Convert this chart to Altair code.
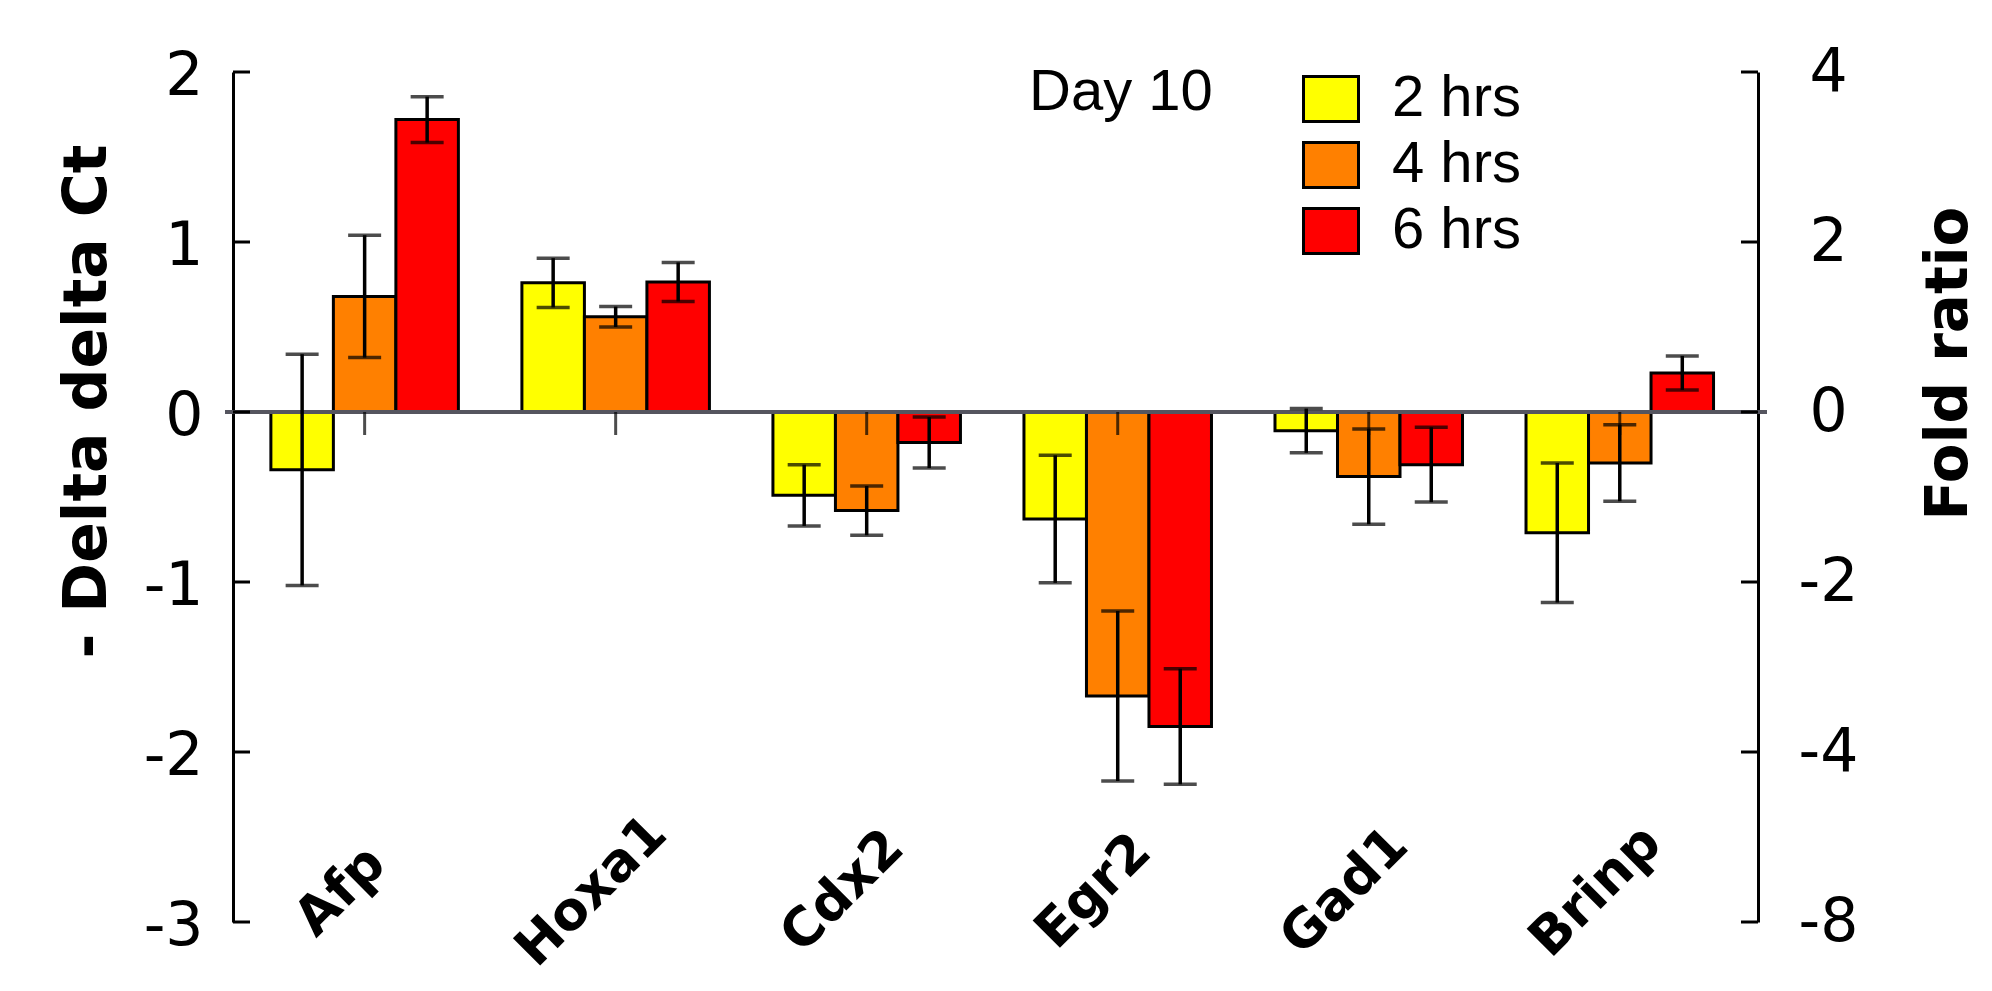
import altair as alt
import pandas as pd

# --- data -------------------------------------------------------------
genes = ["Afp", "Hoxa1", "Cdx2", "Egr2", "Gad1", "Brinp"]
series = ["2 hrs", "4 hrs", "6 hrs"]
colors = ["#ffff00", "#ff8000", "#ff0000"]

mean_2h = [-0.34, 0.76, -0.49, -0.63, -0.11, -0.71]
mean_4h = [0.68, 0.56, -0.58, -1.67, -0.38, -0.30]
mean_6h = [1.72, 0.765, -0.18, -1.85, -0.31, 0.23]
err_2h = [0.68, 0.145, 0.18, 0.375, 0.13, 0.41]
err_4h = [0.36, 0.06, 0.145, 0.50, 0.28, 0.225]
err_6h = [0.135, 0.115, 0.15, 0.34, 0.22, 0.10]

left_ticks = [2, 1, 0, -1, -2, -3]
fold_labels = ["4", "2", "0", "-2", "-4", "-8"]
panel_note = ["Day 10"]

rows = []
for s, means, errs in zip(series, [mean_2h, mean_4h, mean_6h], [err_2h, err_4h, err_6h]):
    for g, m, e in zip(genes, means, errs):
        rows.append({"gene": g, "series": s, "value": m, "lo": m - e, "hi": m + e})
df = pd.DataFrame(rows)
genes_df = pd.DataFrame({"gene": genes})
ticks_df = pd.DataFrame({"tick": left_ticks})
zero_df = pd.DataFrame({"v": [0]})
note_df = pd.DataFrame({"note": panel_note})

# --- layout -----------------------------------------------------------
W, H = 1525, 850
LABEL_Y = -2.82           # centre line of the slanted gene names
TEXT_FONT = "DejaVu Sans"
NUM_FONT = "DejaVu Sans"

y_scale = alt.Scale(domain=[-3, 2], nice=False, zero=False)
x_enc = alt.X("gene:N", sort=genes, axis=None,
              scale=alt.Scale(domain=genes, paddingInner=0.253,
                              paddingOuter=0.164, align=0.46))
xo_enc = alt.XOffset("series:N", sort=series,
                     scale=alt.Scale(domain=series, paddingInner=0, paddingOuter=0))

fold_expr = " : ".join(f"datum.value == {v} ? '{l}'" for v, l in zip(left_ticks, fold_labels)) + " : ''"

bars = alt.Chart(df).mark_bar(stroke="black", strokeWidth=3).encode(
    x=x_enc,
    xOffset=xo_enc,
    y=alt.Y("value:Q", scale=y_scale,
            axis=alt.Axis(orient="left", values=left_ticks, ticks=False, tickSize=0,
                          grid=False, domain=True, domainColor="black", domainWidth=3,
                          labelFont=NUM_FONT, labelFontSize=60, labelColor="black",
                          labelPadding=30, labelAlign="right", labelBaseline="middle",
                          labelOffset=4, labelExpr="'' + datum.value",
                          title="- Delta delta Ct", titleFont=TEXT_FONT, titleFontSize=60,
                          titleFontWeight="bold", titleColor="black", titleAngle=270,
                          titleAlign="center", titleBaseline="alphabetic",
                          titleX=-128, titleY=329)),
    color=alt.Color("series:N", sort=series,
                    scale=alt.Scale(domain=series, range=colors),
                    legend=alt.Legend(orient="none", legendX=1069, legendY=-2, title=None,
                                      symbolType="M-1,-0.82H1V0.82H-1Z", symbolSize=3025,
                                      symbolStrokeColor="black", symbolStrokeWidth=3,
                                      symbolOpacity=1, labelFont="Liberation Sans",
                                      labelFontSize=58, labelColor="black", labelOffset=32,
                                      rowPadding=8, padding=0, labelLimit=0)),
)

zero_line = alt.Chart(zero_df).mark_rule(color="#55555f", strokeWidth=4).encode(
    x=alt.value(-8), x2=alt.value(W + 9),
    y=alt.Y("v:Q", scale=y_scale, axis=None),
)

group_ticks = alt.Chart(genes_df).mark_tick(
    orient="vertical", size=23, thickness=3, yOffset=11.5, color="black"
).encode(
    x=x_enc,
    y=alt.YDatum(0, scale=y_scale, axis=None),
)

whiskers = alt.Chart(df).mark_rule(color="black", strokeWidth=3.5).encode(
    x=x_enc, xOffset=xo_enc,
    y=alt.Y("lo:Q", scale=y_scale, axis=None), y2="hi:Q",
)
caps_lo = alt.Chart(df).mark_tick(orient="horizontal", size=33, thickness=3.5, color="black").encode(
    x=x_enc, xOffset=xo_enc, y=alt.Y("lo:Q", scale=y_scale, axis=None),
)
caps_hi = alt.Chart(df).mark_tick(orient="horizontal", size=33, thickness=3.5, color="black").encode(
    x=x_enc, xOffset=xo_enc, y=alt.Y("hi:Q", scale=y_scale, axis=None),
)

left_ticks_layer = alt.Chart(ticks_df).mark_rule(color="black", strokeWidth=3).encode(
    x=alt.value(0), x2=alt.value(17),
    y=alt.Y("tick:Q", scale=y_scale, axis=None),
)

right_ticks_layer = alt.Chart(ticks_df).mark_rule(color="black", strokeWidth=3).encode(
    x=alt.value(W - 17), x2=alt.value(W),
    y=alt.Y("tick:Q", scale=y_scale,
            axis=alt.Axis(orient="right", values=left_ticks, ticks=False, tickSize=0,
                          grid=False, domain=True, domainColor="black", domainWidth=3,
                          labelExpr=fold_expr, labelFont=NUM_FONT, labelFontSize=60,
                          labelColor="black", labelPadding=70, labelAlign="center",
                          labelBaseline="middle",
                          title="Fold ratio", titleFont=TEXT_FONT, titleFontSize=58,
                          titleFontWeight="bold", titleColor="black", titleAngle=270,
                          titleAlign="center", titleBaseline="alphabetic",
                          titleX=208, titleY=291)),
)

gene_labels = alt.Chart(genes_df).mark_text(
    angle=315, align="center", baseline="middle", xOffset=-24,
    font=TEXT_FONT, fontSize=53, fontWeight="bold", color="black",
).encode(
    x=x_enc,
    y=alt.YDatum(LABEL_Y, scale=y_scale, axis=None),
    text="gene:N",
)

day_note = alt.Chart(note_df).mark_text(
    align="center", baseline="alphabetic", font="Liberation Sans",
    fontSize=58, color="black",
).encode(
    x=alt.value(888), y=alt.value(38), text="note:N",
)

chart = alt.layer(
    bars, zero_line, group_ticks, whiskers, caps_lo, caps_hi,
    left_ticks_layer, right_ticks_layer, gene_labels, day_note,
).resolve_axis(y="independent").properties(
    width=W, height=H,
    autosize=alt.AutoSizeParams(type="none"),
    padding={"left": 233, "top": 72, "right": 234, "bottom": 69},
    background="white",
).configure_view(stroke=None)

chart.save("out.html", embed_options={"renderer": "svg", "actions": False})
